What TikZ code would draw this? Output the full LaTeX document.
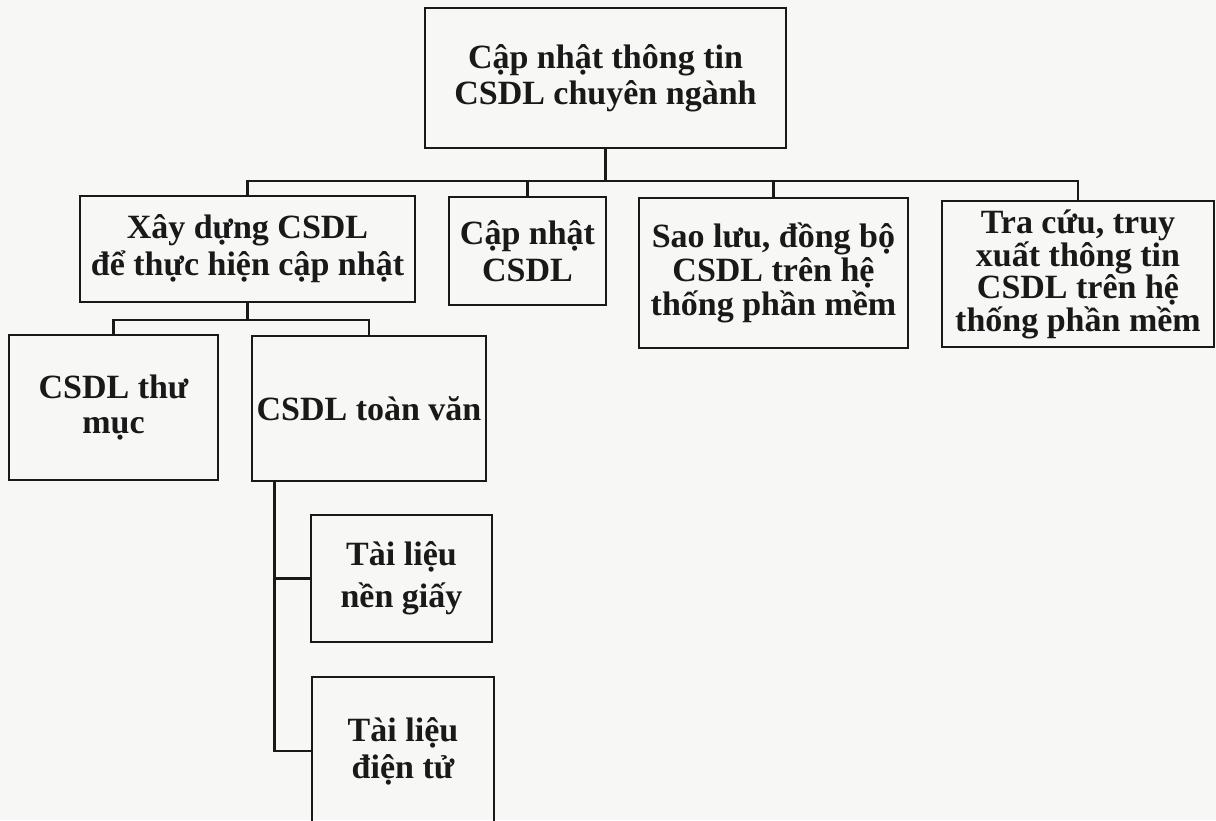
\documentclass[tikz,border=0pt]{standalone}
\usepackage{fontspec}
\setmainfont{Liberation Serif}
\definecolor{paper}{RGB}{247,247,245}
\definecolor{ink}{RGB}{25,25,25}
\begin{document}
\begin{tikzpicture}[x=1pt,y=-1pt,
  box/.style={draw=ink, line width=1.4pt, align=center, inner sep=0pt, text=ink},
  conn/.style={draw=ink, line width=2.6pt, line join=miter},
  fs/.style={font=\bfseries\fontsize{34}{#1}\selectfont}]
\fill[paper] (0,0) rectangle (1216,820);
\useasboundingbox (0,0) rectangle (1216,820);
\clip (0,0) rectangle (1216,820);
\node[box, fs=36, minimum width=361pt, minimum height=140pt] (T) at (605.5,78) {Cập nhật thông tin\\CSDL chuyên ngành};
\node[box, fs=37, minimum width=335pt, minimum height=106pt] (A) at (247.5,249) {Xây dựng CSDL\\để thực hiện cập nhật};
\node[box, fs=37, minimum width=157pt, minimum height=108pt] (B) at (527.5,251) {Cập nhật\\CSDL};
\node[box, fs=34, minimum width=269pt, minimum height=150pt] (C) at (773.5,273) {Sao lưu, đồng bộ\\CSDL trên hệ\\thống phần mềm};
\node[box, fs=31, minimum width=272pt, minimum height=146pt] (D) at (1078,274) {Tra cứu, truy\\xuất thông tin\\CSDL trên hệ\\thống phần mềm};
\node[box, fs=35, minimum width=209pt, minimum height=145pt] (E) at (113.5,407.5) {CSDL thư\\mục};
\node[box, fs=35, minimum width=234pt, minimum height=145pt] (F) at (369,408.5) {CSDL toàn văn};
\node[box, fs=42, minimum width=181pt, minimum height=127pt] (G) at (401.5,578.5) {Tài liệu\\nền giấy};
\node[box, fs=37, minimum width=182pt, minimum height=148pt] (H) at (403,751) {Tài liệu\\điện tử};
\coordinate (bus) at (0,181);
\coordinate (sub) at (0,320);
\coordinate (fv) at ([xshift=23pt]F.south west);
\draw[conn] (T.south) -- (T.south |- bus);
\draw[conn] (A.north) -- (A.north |- bus) -- (D.north |- bus) -- (D.north);
\draw[conn] (B.north) -- (B.north |- bus);
\draw[conn] (C.north) -- (C.north |- bus);
\draw[conn] (A.south) -- (A.south |- sub);
\draw[conn] (E.north) -- (E.north |- sub) -- (F.north |- sub) -- (F.north);
\draw[conn] (fv) |- (H.west);
\draw[conn] (fv |- G.west) -- (G.west);
\end{tikzpicture}
\end{document}
